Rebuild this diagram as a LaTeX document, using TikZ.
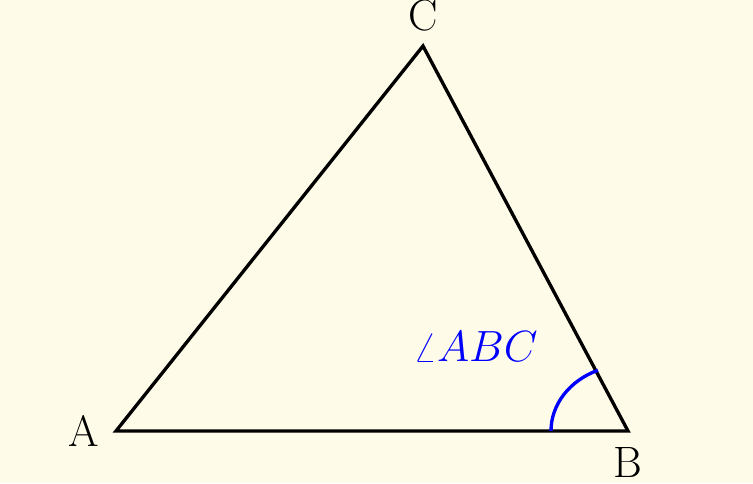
\documentclass[tikz,border=0pt]{standalone}
\definecolor{paper}{RGB}{254,251,232}
\begin{document}
\begin{tikzpicture}[line width=1.9pt,
        vertex/.style={inner sep=0pt,font=\fontsize{25}{30}\selectfont},
        anglabel/.style={inner sep=0pt,text=blue,font=\fontsize{25}{30}\selectfont}]
        \fill[paper] (0,0) rectangle (15.06,9.66);
        \useasboundingbox (0,0) rectangle (15.06,9.66);
        \coordinate (A) at (2.32,1.04);
        \coordinate (B) at (12.56,1.04);
        \coordinate (C) at (8.46,8.74);
        \draw (A) -- (B) -- (C) -- cycle;
        \node[vertex] (labA) at (1.68,1.04) {A};
        \node[vertex] (labB) at (12.56,0.42) {B};
        \node[vertex] (labC) at (8.46,9.36) {C};
        \draw[blue] ([xshift=-1.54cm]B) arc[start angle=180, end angle=113,
          x radius=1.54cm, y radius=1.32cm];
        \node[anglabel] (angB) at (9.51,2.72) {$\angle ABC$};
      \end{tikzpicture}
\end{document}
